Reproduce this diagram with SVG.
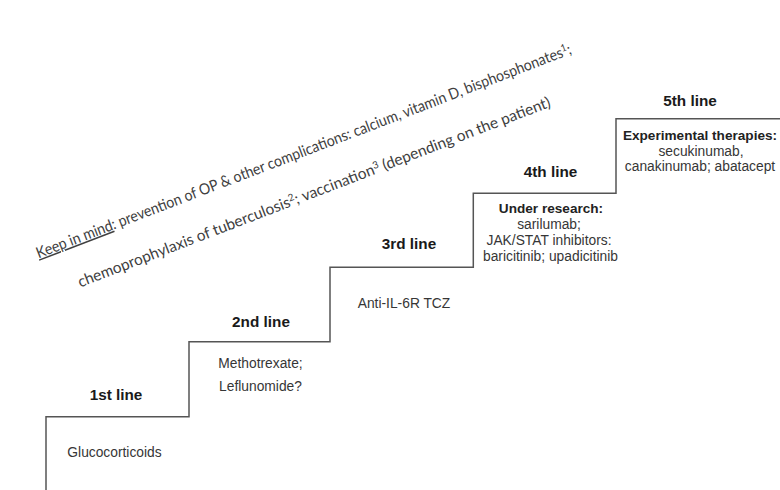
<svg xmlns="http://www.w3.org/2000/svg" width="780" height="490" viewBox="0 0 780 490">
<style>
.lbl{font-family:"Liberation Sans",Arial,sans-serif;font-weight:bold;font-size:15.3px;fill:#1a1a1a;text-anchor:middle}
.txt{font-family:"Liberation Sans",Arial,sans-serif;font-size:13.8px;fill:#363636;text-anchor:middle}
.txtb{font-family:"Liberation Sans",Arial,sans-serif;font-size:13.6px;font-weight:bold;fill:#222;text-anchor:middle}
.note{font-family:Lato,"Open Sans",sans-serif;font-size:15.5px;fill:#404040;text-anchor:middle}
.sup{font-size:10px}
.stair{fill:none;stroke:#555;stroke-width:1.5}
</style>
<rect width="780" height="490" fill="#fff"/>
<g id="connectors">
<path class="stair" d="M46,490 V416.7 H189 V341.7 H330 V267.3 H473.3 V193.3 H616 V118.7 H780"/>
</g>
<g id="step1">
<text class="lbl" x="116" y="400">1st line</text>
<text class="txt" x="114.5" y="457">Glucocorticoids</text>
</g>
<g id="step2">
<text class="lbl" x="261" y="327">2nd line</text>
<text class="txt" x="260.5" y="368">Methotrexate;</text>
<text class="txt" x="260.5" y="391">Leflunomide?</text>
</g>
<g id="step3">
<text class="lbl" x="409" y="249">3rd line</text>
<text class="txt" x="404" y="308">Anti-IL-6R TCZ</text>
</g>
<g id="step4">
<text class="lbl" x="550.5" y="177">4th line</text>
<text class="txtb" x="551" y="213">Under research:</text>
<text class="txt" x="549" y="229">sarilumab;</text>
<text class="txt" x="549" y="245">JAK/STAT inhibitors:</text>
<text class="txt" x="550.5" y="261">baricitinib; upadicitinib</text>
</g>
<g id="step5">
<text class="lbl" x="690" y="106">5th line</text>
<text class="txtb" x="700" y="140">Experimental therapies:</text>
<text class="txt" x="701" y="155.5">secukinumab,</text>
<text class="txt" x="700" y="171">canakinumab; abatacept</text>
</g>
<g id="keep-in-mind" transform="translate(305.5,156) rotate(-21)">
<text class="note" x="0" y="0" textLength="572" lengthAdjust="spacingAndGlyphs"><tspan text-decoration="underline">Keep in mind</tspan>: prevention of OP &amp; other complications: calcium, vitamin D, bisphosphonates<tspan class="sup" dy="-5">1</tspan><tspan dy="5">;</tspan></text>
<text class="note" x="-5" y="42" textLength="505" lengthAdjust="spacingAndGlyphs">chemoprophylaxis of tuberculosis<tspan class="sup" dy="-5">2</tspan><tspan dy="5">; vaccination</tspan><tspan class="sup" dy="-5">3</tspan><tspan dy="5"> (depending on the patient)</tspan></text>
</g>
</svg>
